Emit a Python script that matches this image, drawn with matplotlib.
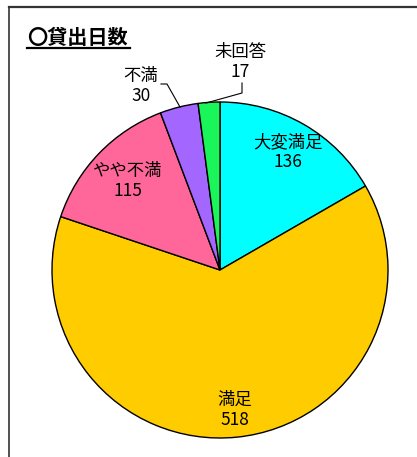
import matplotlib
matplotlib.use("Agg")
import matplotlib.pyplot as plt

plt.rcParams['font.family'] = ['Noto Sans CJK JP', 'DejaVu Sans']

# Data
categories = ["大変満足", "満足", "やや不満", "不満", "未回答"]
values = [136, 518, 115, 30, 17]
colors = ["#00FFFF", "#FFCC00", "#FF6699", "#A366FF", "#1AF55A"]

W, H = 417, 457
fig = plt.figure(figsize=(W / 100, H / 100), dpi=100)
ax = fig.add_axes([0, 0, 1, 1])
ax.axis("off")

cx, cy, r = 220, H - 270, 168
ax.pie(values, colors=colors, startangle=90, counterclock=False,
       center=(cx, cy), radius=r,
       wedgeprops=dict(edgecolor="black", linewidth=1.0))
ax.set_xlim(0, W)
ax.set_ylim(0, H)
ax.set_aspect("equal")

# labels (pixel positions from top)
label_pos = [(288, 152), (235, 410), (128, 181), (141, 86), (240, 62)]
for name, v, (x, y) in zip(categories, values, label_pos):
    ax.text(x, H - y, f"{name}\n{v}", ha="center", va="center",
            fontsize=12.5, linespacing=1.15)

# leader lines
ax.plot([161, 167, 180], [H - 84, H - 84, H - 107], color="black", lw=0.8)
ax.plot([242, 242, 206], [H - 83, H - 93, H - 103], color="black", lw=0.8)

# title
ax.text(27, H - 38, "〇貸出日数", fontsize=14.5, fontweight="bold",
        ha="left", va="center")
ax.plot([27, 130], [H - 48, H - 48], color="black", lw=1.6)

# frame (top and left edge)
ax.plot([9.5, W], [H - 6.5, H - 6.5], color="#333333", lw=1.6)
ax.plot([9.5, 9.5], [0, H - 6.5], color="#333333", lw=1.2)

fig.savefig("out.png", dpi=100)
